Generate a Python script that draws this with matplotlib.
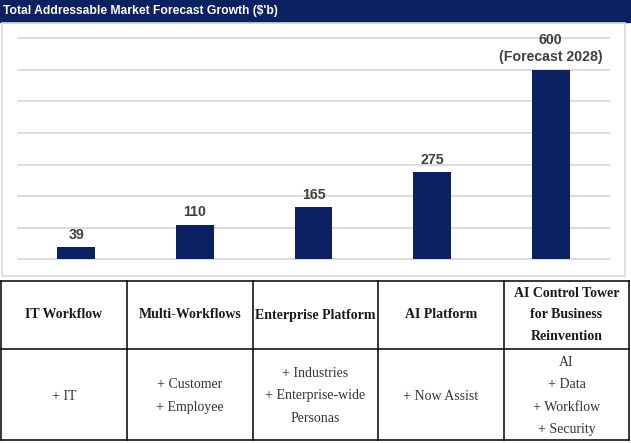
import matplotlib.pyplot as plt
from matplotlib.patches import Rectangle

W, H = 631, 443

title = "Total Addressable Market Forecast Growth ($'b)"
stages = ["IT Workflow", "Multi-Workflows", "Enterprise Platform", "AI Platform",
          "AI Control Tower\nfor Business\nReinvention"]
tam = [39, 110, 165, 275, 600]
tam_labels = ["39", "110", "165", "275", "600\n(Forecast 2028)"]
additions = ["+ IT", "+ Customer\n+ Employee", "+ Industries\n+ Enterprise-wide\nPersonas",
             "+ Now Assist", "AI\n+ Data\n+ Workflow\n+ Security"]

navy = "#0b2161"
grid = "#d9d9d9"
narrow = ["Liberation Sans Narrow", "Liberation Sans", "DejaVu Sans"]
serif = ["Liberation Serif", "DejaVu Serif"]

fig = plt.figure(figsize=(W / 100, H / 100), dpi=100)

# background axes in pixel units (y down) for title bar, frame and table
bg = fig.add_axes([0, 0, 1, 1])
bg.set_xlim(0, W)
bg.set_ylim(H, 0)
bg.axis("off")

bg.add_patch(Rectangle((0, 0), W, 21.5, color=navy))
bg.text(3, 11, title, color="white", fontsize=8.7, fontweight="bold",
        family=narrow, va="center", ha="left")
bg.add_patch(Rectangle((2, 23), 623, 253, fill=False, ec=grid, lw=1.2))

# bar chart
ymin, ymax = -4, 704
px = 224 / 700
top = 38 - (ymax - 700) * px
bottom = 262 - (0 - ymin) * px
ax = fig.add_axes([17 / W, 1 - bottom / H, 593 / W, (bottom - top) / H])
ax.set_facecolor("none")
x = range(len(tam))
bars = ax.bar(x, tam, width=0.32, color=navy, zorder=2)
ax.set_ylim(ymin, ymax)
ax.set_xlim(-0.5, len(tam) - 0.5)
ax.set_yticks(range(0, 701, 100))
ax.yaxis.grid(True, color=grid, lw=1.3)
ax.set_axisbelow(True)
ax.tick_params(left=False, bottom=False, labelleft=False, labelbottom=False)
for s in ax.spines.values():
    s.set_visible(False)
for b, lab in zip(bars, tam_labels):
    ax.annotate(lab, (b.get_x() + b.get_width() / 2, b.get_height()),
                xytext=(0, 6), textcoords="offset points", ha="center",
                va="baseline", fontsize=10.2, fontweight="bold", color="#404040",
                family=narrow, linespacing=1.3, annotation_clip=False)

# table under the chart
xs = [1, 127, 253, 378, 504, 629]
ys = [281, 349, 440]
for yy in ys:
    bg.plot([xs[0], xs[-1]], [yy, yy], color="black", lw=1.1, solid_capstyle="projecting")
for xx in xs:
    bg.plot([xx, xx], [ys[0], ys[-1]], color="black", lw=1.1, solid_capstyle="projecting")
for i, (head, body) in enumerate(zip(stages, additions)):
    cx = (xs[i] + xs[i + 1]) / 2
    bg.text(cx, (ys[0] + ys[1]) / 2, head, ha="center", va="center",
            fontsize=10, fontweight="bold", family=serif, color="#1a1a1a",
            linespacing=1.86)
    bg.text(cx, (ys[1] + ys[2]) / 2 + 1.5, body, ha="center", va="center",
            fontsize=10, family=serif, color="#333333", linespacing=1.94)

fig.savefig("out.png", dpi=100)
